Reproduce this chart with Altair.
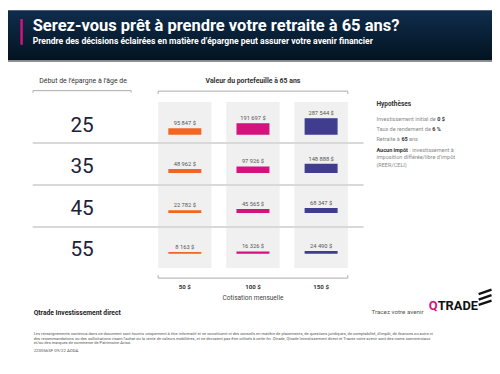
import altair as alt
import pandas as pd

# ---------------- data ----------------
ages = ["25", "35", "45", "55"]
contributions = ["50 $", "100 $", "150 $"]
values_25 = [95847, 191697, 287544]
values_35 = [48962, 97926, 148888]
values_45 = [22782, 45565, 68347]
values_55 = [8163, 16326, 24490]
values_by_age = {"25": values_25, "35": values_35, "45": values_45, "55": values_55}
bar_colors = ["#F26522", "#D4137F", "#403D8F"]

rows = []
for a in ages:
    for c, v in zip(contributions, values_by_age[a]):
        rows.append({"age": a, "contribution": c, "value": v,
                     "label": f"{v:,}".replace(",", " ") + " $"})
df = pd.DataFrame(rows)
max_value = int(df["value"].max())

FONT = "Roboto"
W, H = 490, 350
ONE = alt.Data(values=[{}])

X_SCALE = alt.Scale(domain=contributions, range=[152, 344], paddingInner=0.217, paddingOuter=0)
ROW_RANGE = [93, 261]
ROW_PAD = 0.047
ROW_SCALE = alt.Scale(domain=ages, range=ROW_RANGE, paddingInner=ROW_PAD, paddingOuter=0)
BAR_PX = 15.3  # pixel height of the largest bar


def txt(s, x, y, size, color="#333333", weight="normal", align="left",
        font=FONT, baseline="middle"):
    return alt.Chart(ONE).mark_text(
        text=s, fontSize=size, color=color, fontWeight=weight, align=align,
        font=font, baseline=baseline
    ).encode(x=alt.value(x), y=alt.value(y))


def rule(x, x2, y, y2, color="#aaaaaa", width=1.0):
    return alt.Chart(ONE).mark_rule(color=color, strokeWidth=width).encode(
        x=alt.value(x), x2=alt.value(x2), y=alt.value(y), y2=alt.value(y2))


layers = []

# ---------------- header ----------------
layers.append(alt.Chart(ONE).mark_rect(
    color=alt.LinearGradient(gradient="linear",
                             stops=[alt.GradientStop(color="#0f2d4d", offset=0),
                                    alt.GradientStop(color="#03131f", offset=1)],
                             x1=0, x2=0, y1=0, y2=1)
).encode(x=alt.value(0), x2=alt.value(W), y=alt.value(0), y2=alt.value(51)))
layers.append(rule(0, W, 51.8, 51.8, color="#8f8f8f", width=1.5))
layers.append(alt.Chart(ONE).mark_rect(color="#D4137F").encode(
    x=alt.value(12.5), x2=alt.value(15), y=alt.value(9), y2=alt.value(35)))
layers.append(txt("Serez-vous prêt à prendre votre retraite à 65 ans?", 25, 21.5, 16.7,
                  color="white", weight="bold", baseline="alphabetic"))
layers.append(txt("Prendre des décisions éclairées en matière d’épargne peut assurer votre avenir financier",
                  25, 34, 8.7, color="white", weight="bold", baseline="alphabetic"))

# ---------------- column headers ----------------
layers.append(txt("Début de l’épargne à l’âge de", 76, 71.3, 7, color="#333333", align="center"))
layers.append(rule(25.3, 124.7, 81.5, 81.5))
layers.append(rule(25.3, 25.3, 81.5, 83.5))
layers.append(rule(124.7, 124.7, 81.5, 83.5))

layers.append(txt("Valeur du portefeuille à 65 ans", 248, 72, 7, color="#333333",
                  weight="bold", align="center"))
layers.append(rule(152, 344, 82, 82))
layers.append(rule(152, 152, 82, 85))
layers.append(rule(344, 344, 82, 85))

# ---------------- grid ----------------
layers.append(alt.Chart(df).mark_rect(color="#F0F0F0").encode(
    x=alt.X("contribution:N", scale=X_SCALE, axis=None),
    y=alt.Y("age:N", scale=ROW_SCALE, axis=None)))

sep_df = pd.DataFrame({"age": ages[1:]})
layers.append(alt.Chart(sep_df).mark_rule(color="#cccccc", strokeWidth=1.5, yOffset=-1).encode(
    y=alt.Y("age:N", scale=ROW_SCALE, axis=None, bandPosition=0),
    x=alt.value(25), x2=alt.value(360)))

layers.append(alt.Chart(pd.DataFrame({"age": ages})).mark_text(
    fontSize=21, color="#1d2238", font=FONT, baseline="middle", dy=3
).encode(y=alt.Y("age:N", scale=ROW_SCALE, axis=None), x=alt.value(75), text="age:N"))

step = (ROW_RANGE[1] - ROW_RANGE[0]) / (len(ages) - ROW_PAD)
band = step * (1 - ROW_PAD)
color_enc = alt.Color("contribution:N", scale=alt.Scale(domain=contributions, range=bar_colors), legend=None)
stroke_enc = alt.Stroke("contribution:N", scale=alt.Scale(domain=contributions, range=bar_colors), legend=None)

for i, a in enumerate(ages):
    sub = df[df["age"] == a]
    center = ROW_RANGE[0] + step * i + band / 2
    base = center + BAR_PX * max(values_by_age[a]) / max_value / 2 + 4.5
    yscale = alt.Scale(domain=[0, max_value], range=[base, base - BAR_PX], nice=False, zero=True)
    layers.append(alt.Chart(sub).mark_bar(size=32, strokeWidth=1.4).encode(
        x=alt.X("contribution:N", scale=X_SCALE, axis=None),
        y=alt.Y("value:Q", scale=yscale, axis=None),
        color=color_enc, stroke=stroke_enc))
    layers.append(alt.Chart(sub).mark_text(
        fontSize=5.8, color="#555555", font=FONT, baseline="bottom", dy=-3
    ).encode(
        x=alt.X("contribution:N", scale=X_SCALE, axis=None),
        y=alt.Y("value:Q", scale=yscale, axis=None),
        text="label:N"))

# ---------------- bottom axis ----------------
layers.append(rule(152, 344, 271.3, 271.3))
layers.append(rule(152, 152, 268.3, 271.3))
layers.append(rule(344, 344, 268.3, 271.3))
layers.append(alt.Chart(pd.DataFrame({"contribution": contributions})).mark_text(
    fontSize=6.2, color="#333333", font=FONT, fontWeight="bold", baseline="middle"
).encode(x=alt.X("contribution:N", scale=X_SCALE, axis=None), y=alt.value(280.3),
         text="contribution:N"))
layers.append(txt("Cotisation mensuelle", 248, 291, 6.6, color="#444444", align="center"))

# ---------------- hypotheses panel ----------------
G = "#8a8a8a"
D = "#333333"
S = 5.6
layers.append(txt("Hypothèses", 373, 95.5, 6.6, color=D, weight="bold"))
layers.append(txt("Investissement initial de", 373, 110.5, S, color=G))
layers.append(txt("0 $", 434.5, 110.5, S, color=D, weight="bold"))
layers.append(txt("Taux de rendement de", 373, 120.5, S, color=G))
layers.append(txt("6 %", 429.5, 120.5, S, color=D, weight="bold"))
layers.append(txt("Retraite à", 373, 130.5, S, color=G))
layers.append(txt("65", 398.3, 130.5, S, color=D, weight="bold"))
layers.append(txt("ans", 406, 130.5, S, color=G))
layers.append(txt("Aucun impôt", 373, 141.5, S, color=D, weight="bold"))
layers.append(txt(": investissement à", 406.5, 141.5, S, color=G))
layers.append(txt("imposition différée/libre d’impôt", 373, 149, S, color=G))
layers.append(txt("(REER/CELI)", 373, 156.5, S, color=G))

# ---------------- footer ----------------
layers.append(txt("Qtrade Investissement direct", 26, 307, 6.8, color="#222222", weight="bold"))
layers.append(txt("Tracez votre avenir", 368, 306, 6.3, color="#555555"))
layers.append(txt("Q", 426, 304, 13, color="#D4137F", weight="bold", baseline="alphabetic"))
layers.append(txt("TRADE", 435, 304, 13, color="#111111", weight="bold", baseline="alphabetic"))
for k in range(3):
    layers.append(rule(476.5, 489.5, 287.5 + 5.5 * k, 283 + 5.5 * k, color="#111111", width=2.4))

disclaimer = [
    "Les renseignements contenus dans ce document sont fournis uniquement à titre informatif et ne constituent ni des conseils en matière de placements, de questions juridiques, de comptabilité, d’impôt, de finances ou autre ni",
    "des recommandations ou des sollicitations visant l’achat ou la vente de valeurs mobilières, et ne devraient pas être utilisés à cette fin. Qtrade, Qtrade Investissement direct et Tracez votre avenir sont des noms commerciaux",
    "et/ou des marques de commerce de Patrimoine Aviso.",
]
for k, line in enumerate(disclaimer):
    layers.append(txt(line, 26, 328.5 + 5 * k, 4.1, color="#555555", baseline="alphabetic"))
layers.append(txt("220056SF 09/22 AODA", 26, 346, 4.4, color="#555555", baseline="alphabetic"))

chart = alt.layer(*layers).resolve_scale(y="independent").properties(
    width=W, height=H, autosize=alt.AutoSizeParams(type="none"), padding=0
).configure_view(strokeWidth=0)

chart.save("out.html", embed_options={"renderer": "svg", "actions": False})
